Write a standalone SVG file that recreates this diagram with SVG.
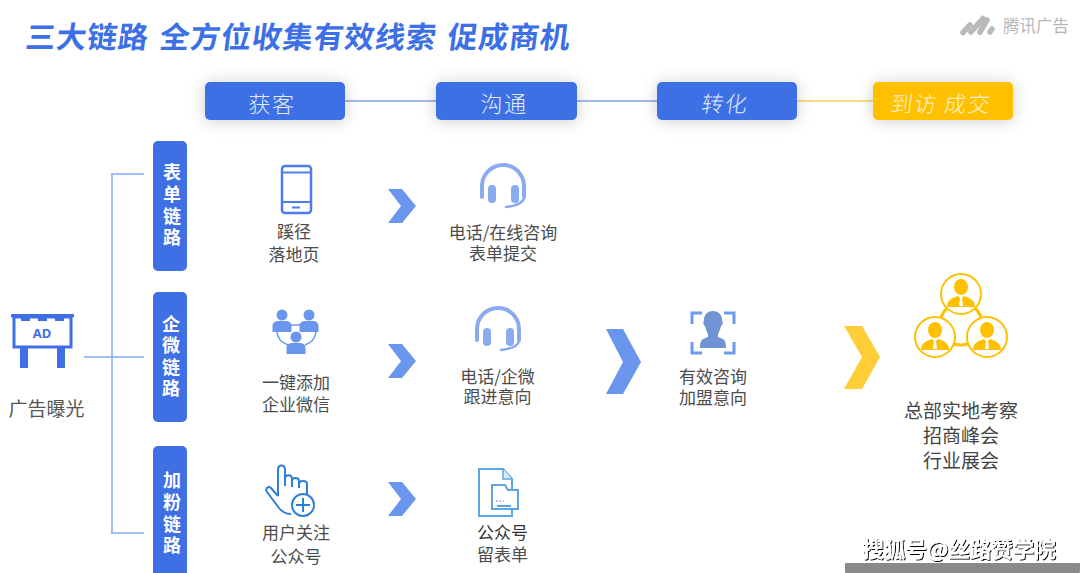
<svg xmlns="http://www.w3.org/2000/svg" xmlns:xlink="http://www.w3.org/1999/xlink" width="1080" height="573" viewBox="0 0 1080 573">
<style>
text{font-family:"Noto Sans CJK SC","Noto Sans",sans-serif;text-anchor:middle}
.title{font-size:30px;font-weight:700;fill:#3d6fe6;letter-spacing:.8px}
.hd{font-size:22px;font-weight:300;fill:#e4ebfc;letter-spacing:1.5px}
.side{font-size:18px;font-weight:700;fill:#fff}
.lb{font-size:17px;fill:#4c4c4c}
.lb2{font-size:19px;fill:#444}
.blue{fill:#3e6fe5}
.bar{fill:#3e6fe5}
.chev{fill:#6b96ee}
.ln{fill:none;stroke:#85a8f5;stroke-width:1.5}
</style>
<defs>
<filter id="sh" x="-30%" y="-80%" width="160%" height="260%"><feDropShadow dx="0" dy="1" stdDeviation="8" flood-color="#000" flood-opacity=".2"/></filter>
<filter id="wm" x="-5%" y="-20%" width="110%" height="140%"><feDropShadow dx="1" dy="1" stdDeviation=".4" flood-color="#000" flood-opacity="1"/></filter>
<g id="headset">
<path d="M482 193V186a21 21 0 0 1 42 0V193" fill="none" stroke="#8aabf0" stroke-width="4"/>
<rect x="488" y="185" width="8" height="18" rx="4" fill="#8aabf0"/>
<rect x="511" y="185" width="8" height="18" rx="4" fill="#8aabf0"/>
<rect x="480" y="186" width="4" height="13" rx="2" fill="#8aabf0"/>
<rect x="522" y="186" width="4" height="13" rx="2" fill="#8aabf0"/>
<path d="M524 198C523 204 514 206 506 207" fill="none" stroke="#8aabf0" stroke-width="2.5" stroke-linecap="round"/>
</g>
<path id="chevS" d="M388 189H402L416 206L402 223H388L401 206Z"/>
<g id="boss">
<circle r="20" fill="#fff" stroke="#ffc000" stroke-width="2"/>
<ellipse cy="-7" rx="7" ry="8" fill="#ffc000"/>
<path d="M-14 13C-14 6-9 4-3 2L0 5L3 2C9 4 14 6 14 13Z" fill="#ffc000"/>
<path d="M-1 4H1L2 12H-2Z" fill="#fff"/>
</g>
<g id="person">
<circle cy="-9" r="5.500" fill="#6b96ee"/>
<path d="M-9.500 8V2C-9.500-2-6-3-4-3H4C6-3 9.500-2 9.500 2V8Z" fill="#6b96ee"/>
</g>
</defs>
<rect width="1080" height="573" fill="#fff"/>

<g id="title">
<text class="title" transform="translate(86 48) skewX(-7)">三大链路</text>
<text class="title" transform="translate(297 48) skewX(-7)">全方位收集有效线索</text>
<text class="title" transform="translate(508 48) skewX(-7)">促成商机</text>
</g>

<g id="logo">
<g fill="none" stroke="#b9b9b9" stroke-width="5.500" stroke-linecap="round">
<path d="M963 32.500L970 25"/><path d="M971 32L983 18.500"/><path d="M980 32L987 20"/><path d="M990 32L992 29"/>
</g>
<text x="1036" y="32" font-size="16.500" fill="#b8b8b8">腾讯广告</text>
</g>

<g id="connectors">
<path d="M345 101H436M577 101H657" stroke="#a3b9ea" stroke-width="2" fill="none"/>
<path d="M797 101H873" stroke="#fbdc85" stroke-width="2" fill="none"/>
<path class="ln" d="M112 174V533M111 174H144M84 357H144M111 533H144"/>
</g>

<g id="step-huoke"><rect class="bar" x="205" y="82" width="140" height="38" rx="5" filter="url(#sh)"/><text class="hd" x="272" y="112">获客</text></g>
<g id="step-goutong"><rect class="bar" x="436" y="82" width="141" height="38" rx="5" filter="url(#sh)"/><text class="hd" x="504" y="112">沟通</text></g>
<g id="step-zhuanhua"><rect class="bar" x="657" y="82" width="140" height="38" rx="5" filter="url(#sh)"/><text class="hd" transform="translate(724 112) skewX(-8)">转化</text></g>
<g id="step-daofang"><rect x="873" y="82" width="140" height="38" rx="5" fill="#ffc000" filter="url(#sh)"/><text class="hd" transform="translate(940 112) skewX(-8)" style="fill:#fff3cf">到访 成交</text></g>

<g id="chain-form"><rect class="bar" x="153" y="141" width="34" height="130" rx="5"/>
<text class="side"><tspan x="172" y="179">表</tspan><tspan x="172" y="201">单</tspan><tspan x="172" y="223">链</tspan><tspan x="172" y="244">路</tspan></text></g>
<g id="chain-wecom"><rect class="bar" x="153" y="292" width="34" height="130" rx="5"/>
<text class="side"><tspan x="171" y="331">企</tspan><tspan x="171" y="352">微</tspan><tspan x="171" y="374">链</tspan><tspan x="171" y="395">路</tspan></text></g>
<g id="chain-fans"><rect class="bar" x="153" y="446" width="34" height="134" rx="5"/>
<text class="side"><tspan x="172" y="487">加</tspan><tspan x="172" y="509">粉</tspan><tspan x="172" y="531">链</tspan><tspan x="172" y="552">路</tspan></text></g>

<g id="billboard">
<rect class="blue" x="11" y="314" width="63" height="3.500" rx="1"/>
<rect x="14" y="317" width="57" height="30" fill="none" stroke="#3e6fe5" stroke-width="3"/>
<path class="blue" d="M21 317H30V321H21ZM38 317H47V321H38ZM55 317H64V321H55Z"/>
<rect class="blue" x="20" y="348" width="8" height="20"/><rect class="blue" x="57" y="348" width="8" height="20"/>
<text x="42" y="338" font-size="13" font-weight="700" fill="#3e6fe5" style="font-family:'Noto Sans',sans-serif">AD</text>
<text x="46.500" y="416" font-size="19" fill="#555">广告曝光</text>
</g>

<g id="landing">
<rect x="282" y="166" width="29" height="47" rx="3" fill="none" stroke="#4d7de8" stroke-width="2.500"/>
<path d="M282 172.500H311M282 202H311" stroke="#4d7de8" stroke-width="2"/>
<path d="M292 207.500H300" stroke="#4d7de8" stroke-width="2"/>
<text class="lb"><tspan x="294" y="238">蹊径</tspan><tspan x="294" y="261">落地页</tspan></text>
</g>

<g id="arrows">
<use xlink:href="#chevS" href="#chevS" class="chev"/>
<use xlink:href="#chevS" href="#chevS" class="chev" y="155"/>
<use xlink:href="#chevS" href="#chevS" class="chev" y="293"/>
<path class="chev" d="M606 329H623L641 362L623 394H606L623 362Z"/>
<path d="M844 326H862L880 357L862 389H844L862 357Z" fill="#ffcd36"/>
</g>

<g id="call-form"><use xlink:href="#headset" href="#headset"/>
<text class="lb"><tspan x="503" y="239">电话/在线咨询</tspan><tspan x="503" y="260">表单提交</tspan></text></g>

<g id="wecom-add">
<path d="M277 332C278 340 282 343 288 345M305 345C311 343 315 340 316 332M288 325H303" fill="none" stroke="#6b96ee" stroke-width="1.500"/>
<use xlink:href="#person" href="#person" x="282" y="324"/>
<use xlink:href="#person" href="#person" x="309" y="324"/>
<use xlink:href="#person" href="#person" x="296" y="346"/>
<text class="lb"><tspan x="296" y="389">一键添加</tspan><tspan x="296" y="411">企业微信</tspan></text>
</g>

<g id="call-wecom"><use xlink:href="#headset" href="#headset" x="-5" y="143"/>
<text class="lb"><tspan x="497.500" y="383">电话/企微</tspan><tspan x="497.500" y="403">跟进意向</tspan></text></g>

<g id="follow">
<path d="M278 496L271 488C268 485 265 489 267 492L279 508C282 512 287 514 291 514M278 496V470C278 464 285 464 285 470V486M285 479C285 474 292 474 292 479V487M292 481C292 477 299 477 299 481V488M299 484C299 480 307 480 307 484V495" fill="none" stroke="#2f7fd6" stroke-width="2" stroke-linejoin="round"/>
<circle cx="303" cy="505" r="11" fill="#fff" stroke="#2f7fd6" stroke-width="2"/>
<path d="M303 498V512M296 505H310" stroke="#2f7fd6" stroke-width="2"/>
<text class="lb"><tspan x="296" y="539">用户关注</tspan><tspan x="296" y="563">公众号</tspan></text>
</g>

<g id="form-doc">
<path d="M479 469H503L512 479V516H479Z" fill="#fff" stroke="#5ea4e2" stroke-width="2"/>
<path d="M503 469V479H512" fill="#dcebf9" stroke="#5ea4e2" stroke-width="1.500"/>
<path d="M492 485H505L508 490H518V509H492Z" fill="#fff" stroke="#5ea4e2" stroke-width="2"/>
<path d="M496 501H504" stroke="#8fb5de" stroke-width="1.500" stroke-dasharray="2 1.500"/><path d="M497 506H511" stroke="#5ea4e2" stroke-width="2"/>
<text class="lb"><tspan x="502.500" y="539" style="fill:#333">公众号</tspan><tspan x="502.500" y="561">留表单</tspan></text>
</g>

<g id="intent">
<path d="M692 324V313H702M724 313H734V324M692 342V353H702M724 353H734V342" fill="none" stroke="#6f9aea" stroke-width="3"/>
<path d="M704 320C704 308 722 308 722 320C723 322 723 325 721 326C720 330 719 332 718 334V337C724 339 726 340 726 348H700C700 340 702 339 708 337V334C707 332 706 330 705 326C703 325 703 322 704 320Z" fill="#6f93d3"/>
<text class="lb"><tspan x="713" y="383">有效咨询</tspan><tspan x="713" y="404">加盟意向</tspan></text>
</g>

<g id="visit">
<circle cx="961" cy="324" r="21" fill="none" stroke="#ffc000" stroke-width="3"/>
<use xlink:href="#boss" href="#boss" x="961" y="294"/>
<use xlink:href="#boss" href="#boss" x="935" y="337"/>
<use xlink:href="#boss" href="#boss" x="987" y="337"/>
<text class="lb2"><tspan x="961" y="418">总部实地考察</tspan><tspan x="961" y="443">招商峰会</tspan><tspan x="961" y="468">行业展会</tspan></text>
</g>

<rect x="845" y="563" width="235" height="10" rx="1" fill="#8a8a8a"/>
<text x="959" y="557" font-size="21.500" font-weight="700" fill="#fff" filter="url(#wm)">搜狐号@丝路赞学院</text>
</svg>
